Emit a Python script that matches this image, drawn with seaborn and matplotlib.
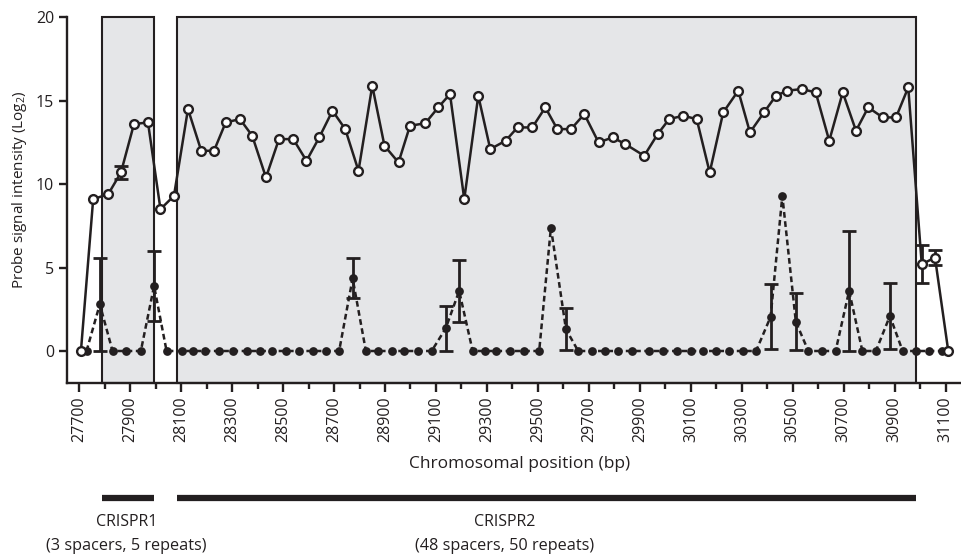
# Probe signal across the CRISPR loci, two probe sets (open / filled circles)

import numpy as np
import seaborn as sns
import matplotlib.pyplot as plt
import matplotlib.transforms as mtransforms
from matplotlib.ticker import FixedLocator

# %%
# open-circle probes: position (bp), mean log2 signal, SD
open_pos = [27707, 27755, 27814, 27864, 27915, 27970, 28019, 28072, 28127, 28179,
            28229, 28275, 28331, 28379, 28433, 28484, 28540, 28592, 28642, 28694,
            28744, 28796, 28850, 28898, 28953, 28998, 29058, 29109, 29155, 29211,
            29266, 29313, 29373, 29420, 29478, 29529, 29576, 29630, 29682, 29738,
            29793, 29843, 29917, 29970, 30015, 30070, 30123, 30174, 30227, 30286,
            30332, 30387, 30434, 30478, 30535, 30590, 30643, 30696, 30748, 30796,
            30853, 30905, 30953, 31006, 31058, 31110]
open_val = [0, 9.1, 9.4, 10.7, 13.6, 13.7, 8.5, 9.3, 14.5, 12.0,
            12.0, 13.7, 13.9, 12.9, 10.4, 12.7, 12.7, 11.4, 12.8, 14.4,
            13.3, 10.8, 15.9, 12.3, 11.3, 13.5, 13.65, 14.6, 15.4, 9.1,
            15.3, 12.1, 12.6, 13.4, 13.4, 14.6, 13.3, 13.3, 14.2, 12.5,
            12.8, 12.4, 11.7, 13.0, 13.9, 14.1, 13.9, 10.7, 14.3, 15.6,
            13.1, 14.3, 15.3, 15.6, 15.7, 15.5, 12.6, 15.5, 13.2, 14.6,
            14.0, 14.0, 15.8, 5.2, 5.6, 0]
open_err = [0, 0, 0, 0.4, 0, 0, 0, 0, 0, 0,
            0, 0, 0, 0, 0, 0, 0, 0, 0, 0,
            0, 0, 0, 0, 0, 0, 0, 0, 0, 0,
            0, 0, 0, 0, 0, 0, 0, 0, 0, 0,
            0, 0, 0, 0, 0, 0, 0, 0, 0, 0,
            0, 0, 0, 0, 0, 0, 0, 0, 0, 0,
            0, 0, 0, 1.15, 0.43, 0]

# filled-circle probes
fill_pos = [27729, 27781, 27831, 27883, 27942, 27994, 28043, 28103, 28146, 28193,
            28248, 28303, 28358, 28409, 28457, 28510, 28563, 28616, 28668, 28720,
            28773, 28825, 28873, 28926, 28974, 29030, 29083, 29138, 29191, 29244,
            29292, 29335, 29390, 29446, 29505, 29551, 29610, 29658, 29711, 29763,
            29813, 29868, 29937, 29989, 30044, 30100, 30149, 30199, 30251, 30303,
            30356, 30413, 30459, 30512, 30561, 30616, 30668, 30721, 30773, 30826,
            30881, 30931, 30983, 31036, 31084]
fill_val = [0, 2.8, 0, 0, 0, 3.9, 0, 0, 0, 0,
            0, 0, 0, 0, 0, 0, 0, 0, 0, 0,
            4.35, 0, 0, 0, 0, 0, 0, 1.35, 3.6, 0,
            0, 0, 0, 0, 0, 7.4, 1.3, 0, 0, 0,
            0, 0, 0, 0, 0, 0, 0, 0, 0, 0,
            0, 2.05, 9.3, 1.75, 0, 0, 0, 3.6, 0, 0,
            2.1, 0, 0, 0, 0]
fill_err = [0, 2.8, 0, 0, 0, 2.1, 0, 0, 0, 0,
            0, 0, 0, 0, 0, 0, 0, 0, 0, 0,
            1.2, 0, 0, 0, 0, 0, 0, 1.35, 1.85, 0,
            0, 0, 0, 0, 0, 0, 1.25, 0, 0, 0,
            0, 0, 0, 0, 0, 0, 0, 0, 0, 0,
            0, 1.95, 0, 1.7, 0, 0, 0, 3.6, 0, 0,
            2.0, 0, 0, 0, 0]

# CRISPR arrays
crispr_names = ['CRISPR1', 'CRISPR2']
crispr_notes = ['(3 spacers, 5 repeats)', '(48 spacers, 50 repeats)']
crispr_start = [27788, 28082]
crispr_end = [27993, 30983]

# %%
sns.set_style('ticks')
plt.rcParams['font.family'] = ['Open Sans', 'DejaVu Sans']
plt.rcParams['mathtext.fontset'] = 'custom'
plt.rcParams['mathtext.rm'] = 'Open Sans'
plt.rcParams['mathtext.it'] = 'Open Sans'

ink = '#231f20'
box_grey = '#e5e6e8'

fig = plt.figure(figsize=(9.62, 5.55), dpi=100)
ax = fig.add_axes([0.0693, 0.3094, 0.9286, 0.6594])

# shaded CRISPR regions
for s, e in zip(crispr_start, crispr_end):
    ax.axvspan(s, e, facecolor=box_grey, edgecolor=ink, lw=1.5,
               zorder=0.5, clip_on=False)

# filled probes, dashed line
sns.lineplot(x=fill_pos, y=fill_val, ax=ax, color=ink, lw=1.8,
             linestyle=(0, (2.3, 1.4)), marker='o', markersize=6.3,
             markerfacecolor=ink, markeredgewidth=0, errorbar=None, zorder=2)
fv = np.array(fill_val)
fe = np.array(fill_err)
m = fe > 0
ax.errorbar(np.array(fill_pos)[m], fv[m], yerr=[np.minimum(fe, fv)[m], fe[m]],
            fmt='none', ecolor=ink, elinewidth=2, capsize=5, capthick=2,
            zorder=3)

# open probes, solid line
ov = np.array(open_val)
oe = np.array(open_err)
m = oe > 0
ax.errorbar(np.array(open_pos)[m], ov[m], yerr=oe[m], fmt='none', ecolor=ink,
            elinewidth=2, capsize=5, capthick=2, zorder=3.5)
sns.lineplot(x=open_pos, y=open_val, ax=ax, color=ink, lw=1.8,
             marker='o', markersize=6.3, markerfacecolor='white',
             markeredgecolor=ink, markeredgewidth=1.7, errorbar=None, zorder=4)

# %%
ax.set_xlim(27651, 31156)
ax.set_ylim(-1.935, 20)
ax.set_xticks(np.arange(27700, 31101, 200))
ax.xaxis.set_minor_locator(FixedLocator(np.arange(27800, 31001, 200)))
ax.set_yticks([0, 5, 10, 15, 20])
ax.tick_params(axis='x', which='major', length=6.5, width=1.7, rotation=90,
               labelsize=11.5, pad=3, color=ink, labelcolor=ink)
ax.tick_params(axis='x', which='minor', length=4, width=1.7, color=ink)
ax.tick_params(axis='y', length=6, width=1.7, labelsize=11.5, pad=3,
               color=ink, labelcolor=ink)
sns.despine(ax=ax)
for side in ['left', 'bottom']:
    ax.spines[side].set_linewidth(1.7)
    ax.spines[side].set_color(ink)

ax.set_ylabel('Probe signal intensity (Log$_2$)', fontsize=11, color=ink)
ax.yaxis.set_label_coords(-0.042, 0.528)
ax.set_xlabel('Chromosomal position (bp)', fontsize=12.5, color=ink)
ax.xaxis.set_label_coords(0.507, -0.2)

# CRISPR bars and labels under the axis
trans = mtransforms.blended_transform_factory(ax.transData, ax.transAxes)
label_x = [27885, 29370]
for s, e, name, note, cx in zip(crispr_start, crispr_end, crispr_names,
                                crispr_notes, label_x):
    ax.plot([s, e], [-0.313, -0.313], transform=trans, color=ink, lw=4.5,
            solid_capstyle='butt', clip_on=False)
    ax.text(cx, -0.379, name, transform=trans, ha='center', va='center',
            fontsize=11.5, color=ink)
    ax.text(cx, -0.4445, note, transform=trans, ha='center', va='center',
            fontsize=11.7, color=ink)

fig.savefig('out.png', dpi=100)
